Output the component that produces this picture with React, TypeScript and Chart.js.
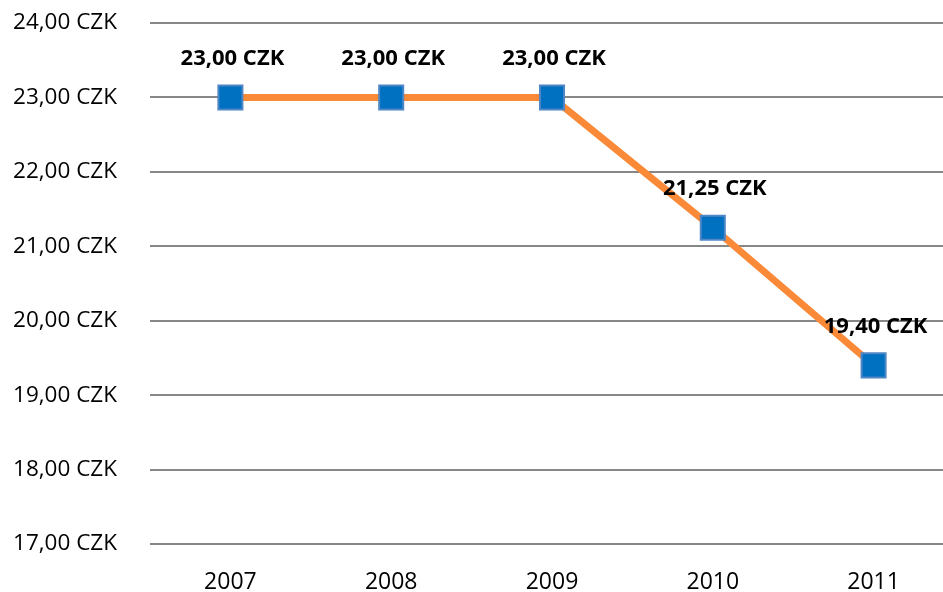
import React, { useEffect, useRef } from "react";
import { Chart, registerables } from "chart.js";

Chart.register(...registerables);

const years = ["2007", "2008", "2009", "2010", "2011"];
const prices = [23.0, 23.0, 23.0, 21.25, 19.4];
const yMin = 17;
const yMax = 24;

const fmt = (v: number) =>
  v.toFixed(2).replace(".", ",") + " CZK";

const FONT = "'Open Sans', 'Liberation Sans', sans-serif";

export default function App() {
  const ref = useRef<HTMLCanvasElement | null>(null);
  useEffect(() => {
    if (!ref.current) return;
    const labelPlugin = {
      id: "valueLabels",
      afterDatasetsDraw(chart: any) {
        const ctx = chart.ctx;
        const meta = chart.getDatasetMeta(0);
        ctx.save();
        ctx.font = `bold 22px ${FONT}`;
        ctx.fillStyle = "#000000";
        ctx.textAlign = "center";
        ctx.textBaseline = "middle";
        meta.data.forEach((pt: any, i: number) => {
          ctx.fillText(fmt(prices[i]), pt.x + 2, pt.y - 39);
        });
        ctx.restore();
      },
    };
    const chart = new Chart(ref.current, {
      type: "line",
      data: {
        labels: years,
        datasets: [
          {
            data: prices,
            borderColor: "#FA8A38",
            borderWidth: 7,
            backgroundColor: "#0070C0",
            pointStyle: "rect",
            pointRadius: 17,
            pointHoverRadius: 17,
            pointBackgroundColor: "#0070C0",
            pointBorderColor: "#4F86C6",
            pointBorderWidth: 2,
            tension: 0,
            fill: false,
          },
        ],
      },
      options: {
        responsive: false,
        animation: false,
        events: [],
        layout: { padding: 0 },
        plugins: {
          legend: { display: false },
          tooltip: { enabled: false },
          title: { display: false },
        },
        scales: {
          x: {
            type: "category",
            offset: true,
            grid: { display: false },
            border: { display: false },
            ticks: {
              color: "#000000",
              font: { family: FONT, size: 23 },
              padding: 17,
              maxRotation: 0,
            },
            afterFit: (s: any) => {
              s.height = 48;
              s.paddingLeft = 0;
              s.paddingRight = 7;
            },
          },
          y: {
            min: yMin,
            max: yMax,
            grid: {
              color: "#878787",
              lineWidth: 2,
              drawTicks: false,
            },
            border: { display: false },
            ticks: {
              stepSize: 1,
              color: "#000000",
              font: { family: FONT, size: 22.5 },
              padding: 33,
              callback: (v: any) => fmt(Number(v)),
            },
            afterFit: (s: any) => {
              s.width = 150;
              s.paddingTop = 23;
              s.paddingBottom = 0;
            },
          },
        },
      },
      plugins: [labelPlugin],
    });
    return () => chart.destroy();
  }, []);
  return (
    <div
      style={{
        position: "fixed",
        left: 0,
        top: 0,
        width: 943,
        height: 592,
        overflow: "hidden",
        background: "#ffffff",
      }}
    >
      <canvas ref={ref} width={973} height={592} />
    </div>
  );
}
